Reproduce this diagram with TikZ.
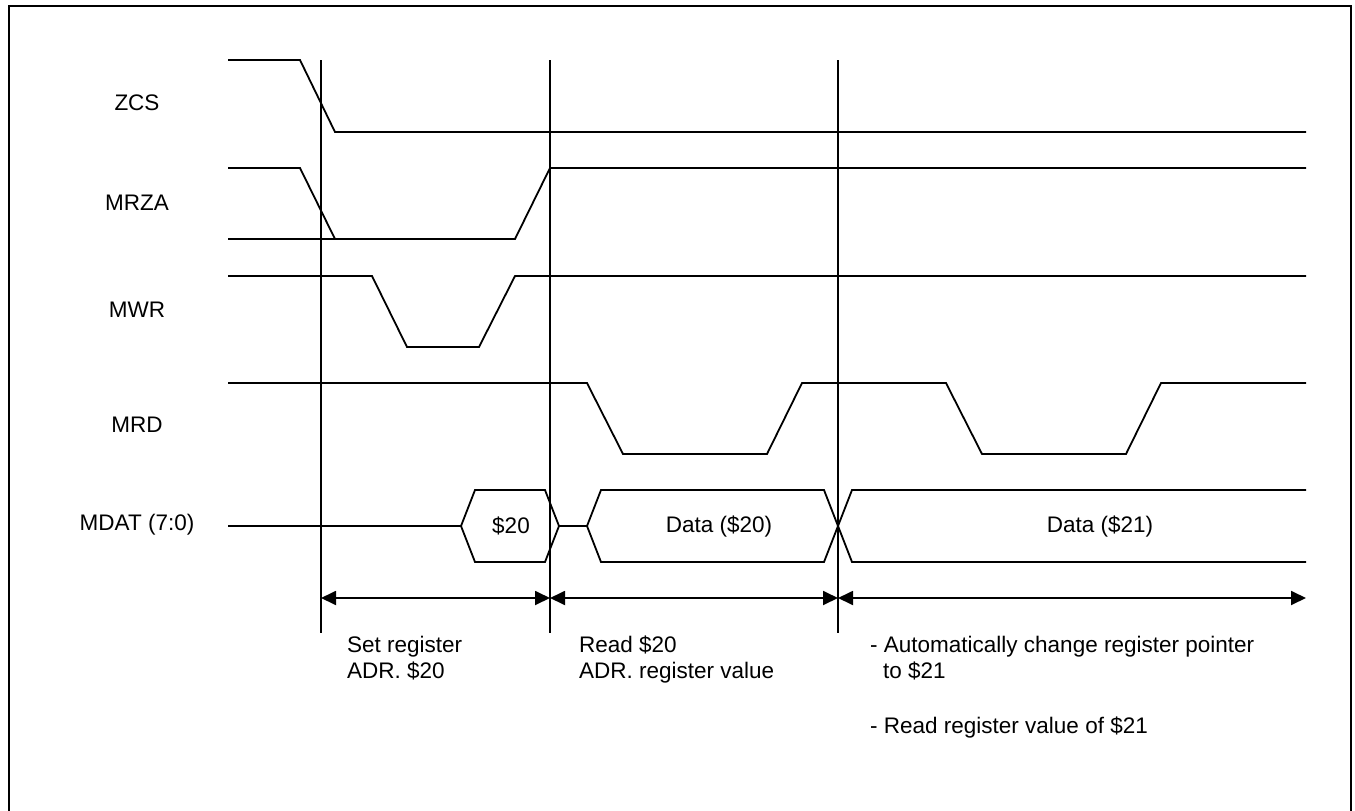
\documentclass[tikz,border=0pt]{standalone}
\usepackage{fontspec}
\setmainfont{Liberation Sans}
\usetikzlibrary{arrows.meta}
\tikzset{
  wave/.style={line width=1.8pt, line join=miter},
  marker/.style={line width=1.8pt},
  span/.style={line width=1.8pt,
    {Triangle[length=15pt,width=14pt]}-{Triangle[length=15pt,width=14pt]}},
  sig/.style={font=\fontsize{22.5}{27}\selectfont, inner sep=0pt},
  note/.style={font=\fontsize{22.5}{27}\selectfont, anchor=base west, inner sep=0pt},
}
\begin{document}
\begin{tikzpicture}[x=1pt, y=-1pt]
\useasboundingbox (0,0) rectangle (1355,811);
% outer frame (bottom edge cut off)
\draw[line width=2.8pt] (9,818) -- (9,6) -- (1351,6) -- (1351,818);

% signal names
\node[sig] (zcs)  at (137,103) {ZCS};
\node[sig] (mrza) at (137,203) {MRZA};
\node[sig] (mwr)  at (137,310) {MWR};
\node[sig] (mrd)  at (137,425) {MRD};
\node[sig] (mdat) at (137,525) {MDAT (7:0)};

% ZCS
\draw[wave] (228,60) -- (300,60) -- (335,132) -- (1306,132);
% MRZA
\draw[wave] (228,168) -- (300,168) -- (335,239);
\draw[wave] (228,239) -- (515,239) -- (550,168) -- (1306,168);
% MWR
\draw[wave] (228,276) -- (372,276) -- (407,347) -- (479,347) -- (515,276) -- (1306,276);
% MRD
\draw[wave] (228,383) -- (587,383) -- (623,454) -- (767,454) -- (802,383)
    -- (946,383) -- (982,454) -- (1126,454) -- (1161,383) -- (1306,383);
% MDAT
\draw[wave] (228,526) -- (461,526);
\draw[wave] (461,526) -- (475,490) -- (545,490) -- (559,526) -- (545,562) -- (475,562) -- cycle;
\node[sig] (d20) at (511,526) {\$20};
\draw[wave] (559,526) -- (587,526);
\draw[wave] (587,526) -- (601,490) -- (824,490) -- (852,562) -- (1306,562);
\draw[wave] (587,526) -- (601,562) -- (824,562) -- (852,490) -- (1306,490);
\node[sig] (data20) at (719,526) {Data (\$20)};
\node[sig] (data21) at (1100,526) {Data (\$21)};

% timing marks
\coordinate (t1) at (321,598);
\coordinate (t2) at (550,598);
\coordinate (t3) at (838,598);
\coordinate (t4) at (1306,598);
\draw[marker] (321,60) -- (321,633);
\draw[marker] (550,60) -- (550,633);
\draw[marker] (838,60) -- (838,633);
\draw[span] (t1) -- (t2);
\draw[span] (t2) -- (t3);
\draw[span] (t3) -- (t4);

% phase notes
\node[note] (set1)  at (347,652) {Set register};
\node[note] (set2)  at (347,678) {ADR. \$20};
\node[note] (read1) at (579,652) {Read \$20};
\node[note] (read2) at (579,678) {ADR. register value};
\node[note] (auto1) at (870,652) {- Automatically change register pointer};
\node[note] (auto2) at (883,678) {to \$21};
\node[note] (auto3) at (870,733) {- Read register value of \$21};
\end{tikzpicture}
\end{document}
